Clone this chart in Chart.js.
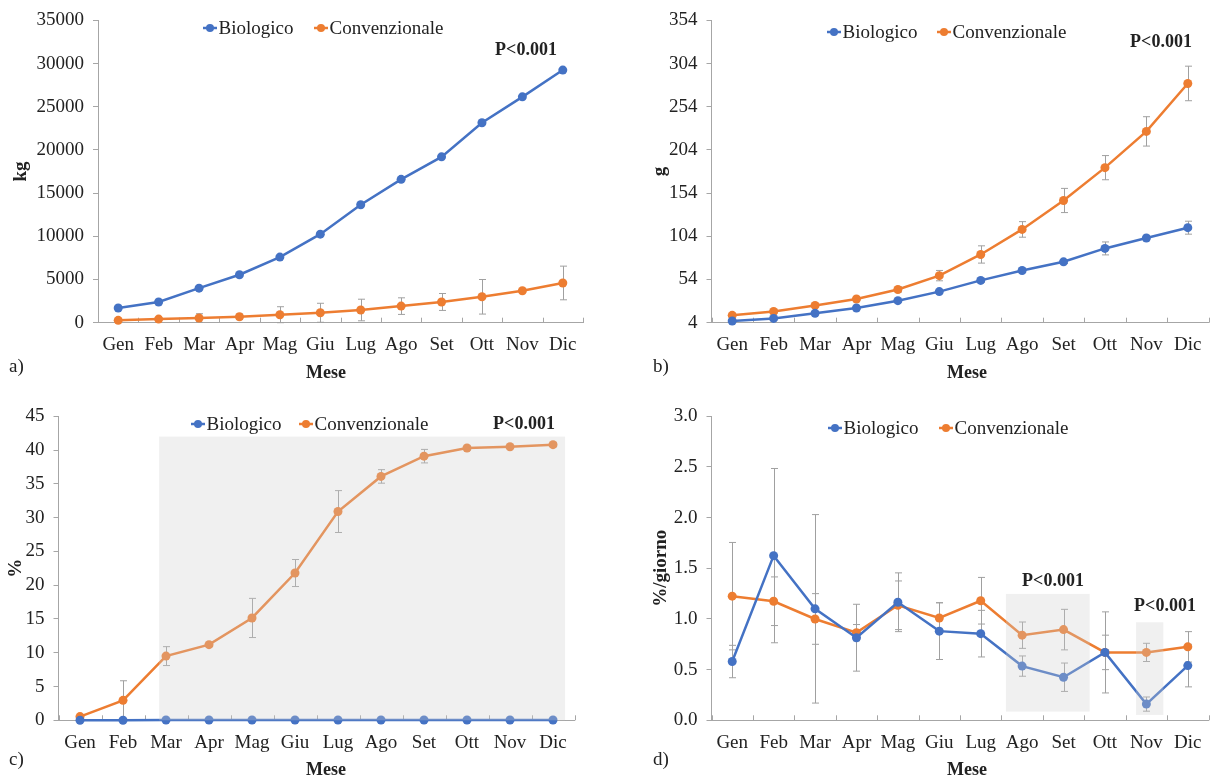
<!DOCTYPE html>
<html>
<head>
<meta charset="utf-8">
<script src="https://cdn.jsdelivr.net/npm/chart.js@4.4.0/dist/chart.umd.min.js"></script>
<style>
  html, body { margin: 0; padding: 0; background: #fff; }
  body { width: 1213px; height: 779px; position: relative; overflow: hidden; }
  .panel { position: absolute; }
</style>
</head>
<body>
<div class="panel" style="left:0;top:0;width:600px;height:390px"><canvas id="chartA"></canvas></div>
<div class="panel" style="left:600px;top:0;width:613px;height:390px"><canvas id="chartB"></canvas></div>
<div class="panel" style="left:0;top:390px;width:600px;height:389px"><canvas id="chartC"></canvas></div>
<div class="panel" style="left:600px;top:390px;width:613px;height:389px"><canvas id="chartD"></canvas></div>

<script>
/* ── Data ─────────────────────────────────────────────────────────────── */
const MONTHS = ['Gen', 'Feb', 'Mar', 'Apr', 'Mag', 'Giu', 'Lug', 'Ago', 'Set', 'Ott', 'Nov', 'Dic'];
const SERIES = ['Biologico', 'Convenzionale'];

// a) kg
const BIO_A      = [1700, 2400, 4000, 5550, 7600, 10250, 13650, 16600, 19200, 23150, 26150, 29250];
const CONV_A     = [270, 420, 540, 690, 920, 1150, 1470, 1920, 2400, 3000, 3700, 4600];
const CONV_A_ERR = [0, 0, 500, 300, 930, 1100, 1250, 960, 980, 2000, 200, 1950];
const TICKS_A    = [0, 5000, 10000, 15000, 20000, 25000, 30000, 35000];

// b) g
const BIO_B      = [6, 9, 15, 21, 29.5, 40, 53, 64.5, 74.5, 90, 102, 114];
const BIO_B_ERR  = [0.5, 0.5, 1, 1, 1, 1.5, 2, 2, 2, 7.5, 3, 7.5];
const CONV_B     = [12.5, 17, 24, 31.5, 42.5, 58.5, 83, 112, 145.5, 183.5, 225.5, 281];
const CONV_B_ERR = [1.5, 1.5, 1.5, 2, 3, 6, 10, 9, 14, 14, 17, 20];
const TICKS_B    = [4, 54, 104, 154, 204, 254, 304, 354];

// c) %
const BIO_C      = [0, 0, 0.05, 0.05, 0.05, 0.05, 0.05, 0.05, 0.05, 0.05, 0.05, 0.05];
const CONV_C     = [0.55, 2.95, 9.5, 11.2, 15.15, 21.8, 30.9, 36.1, 39.1, 40.3, 40.5, 40.8];
const CONV_C_ERR = [0.3, 2.9, 1.4, 0.3, 2.9, 2.0, 3.1, 1.0, 1.0, 0.3, 0.2, 0.3];
const TICKS_C    = [0, 5, 10, 15, 20, 25, 30, 35, 40, 45];
const SHADE_C    = [[1.84, 11.28, 0, 42]];   // [from idx, to idx, low, high]

// d) %/giorno
const BIO_D      = [0.58, 1.625, 1.10, 0.815, 1.165, 0.88, 0.855, 0.535, 0.425, 0.67, 0.16, 0.54];
const BIO_D_ERR  = [0.16, 0.86, 0.93, 0.33, 0.29, 0.28, 0.23, 0.1, 0.14, 0.4, 0.07, 0.21];
const CONV_D     = [1.225, 1.175, 1.0, 0.865, 1.135, 1.01, 1.18, 0.84, 0.895, 0.67, 0.67, 0.725];
const CONV_D_ERR = [0.53, 0.24, 0.25, 0.08, 0.24, 0.15, 0.23, 0.13, 0.2, 0.17, 0.09, 0.15];
const TICKS_D    = [0, 0.5, 1.0, 1.5, 2.0, 2.5, 3.0];
const SHADE_D    = [[6.61, 8.63, 0.086, 1.247], [9.75, 10.41, 0.053, 0.967]];

/* ── Style ────────────────────────────────────────────────────────────── */
const BLUE  = '#4472C4';
const ORANGE = '#ED7D31';
const AXIS  = '#a6a6a6';
const INK   = '#222222';
const SERIF = "'Liberation Serif', 'Times New Roman', serif";

/* ── Decorations: tick marks, error bars, shading, legend, texts ─────── */
const decor = {
  id: 'decor',
  beforeDatasetsDraw(chart) {
    const { ctx, scales: { x, y } } = chart;
    ctx.save();
    ctx.strokeStyle = AXIS;
    ctx.lineWidth = 1;
    for (let i = 0; i <= chart.data.labels.length; i++) {
      const px = Math.round(x.getPixelForValue(i - 0.5)) + 0.5;
      ctx.beginPath();
      ctx.moveTo(px, y.bottom);
      ctx.lineTo(px, y.bottom - 5);
      ctx.stroke();
    }
    ctx.strokeStyle = '#a0a0a0';
    chart.data.datasets.forEach(ds => {
      if (!ds.errors) return;
      ds.data.forEach((v, i) => {
        const e = ds.errors[i];
        if (!e) return;
        const px = Math.round(x.getPixelForValue(i)) + 0.5;
        const top = y.getPixelForValue(v + e);
        const bot = y.getPixelForValue(Math.max(v - e, y.min));
        ctx.beginPath();
        ctx.moveTo(px, top); ctx.lineTo(px, bot);
        ctx.moveTo(px - 3.5, top); ctx.lineTo(px + 3.5, top);
        ctx.moveTo(px - 3.5, bot); ctx.lineTo(px + 3.5, bot);
        ctx.stroke();
      });
    });
    ctx.restore();
  },
  afterDatasetsDraw(chart, args, opts) {
    const { ctx, scales: { x, y } } = chart;
    ctx.save();
    ctx.fillStyle = 'rgba(205,205,205,0.3)';
    (opts.shade || []).forEach(([a, b, lo, hi]) => {
      const l = x.getPixelForValue(a), r = x.getPixelForValue(b);
      const t = y.getPixelForValue(hi), bt = y.getPixelForValue(lo);
      ctx.fillRect(l, t, r - l, bt - t);
    });
    ctx.restore();
  },
  afterDraw(chart, args, opts) {
    const { ctx } = chart;
    ctx.save();
    ctx.textBaseline = 'middle';
    // legend
    const lg = opts.legend;
    chart.data.datasets.forEach((ds, i) => {
      const cx = lg.dots[i], cy = lg.y;
      ctx.strokeStyle = ds.borderColor;
      ctx.lineWidth = 2.5;
      ctx.beginPath(); ctx.moveTo(cx - 7, cy); ctx.lineTo(cx + 7, cy); ctx.stroke();
      ctx.fillStyle = ds.borderColor;
      ctx.beginPath(); ctx.arc(cx, cy, 4, 0, Math.PI * 2); ctx.fill();
      ctx.fillStyle = INK;
      ctx.font = '19px ' + SERIF;
      ctx.textAlign = 'left';
      ctx.fillText(ds.label, cx + 8.5, cy + 1);
    });
    // free texts
    (opts.texts || []).forEach(t => {
      ctx.fillStyle = INK;
      ctx.font = (t.bold ? 'bold ' : '') + t.size + 'px ' + SERIF;
      ctx.textAlign = t.align || 'center';
      ctx.fillText(t.text, t.x, t.y);
    });
    ctx.restore();
  }
};

/* ── Chart factory ────────────────────────────────────────────────────── */
function makeChart(id, p) {
  const tickFont = { family: SERIF, size: 19 };
  return new Chart(document.getElementById(id), {
    type: 'line',
    data: {
      labels: MONTHS,
      datasets: [
        { label: SERIES[0], data: p.bio, errors: p.bioErr, borderColor: BLUE, backgroundColor: BLUE },
        { label: SERIES[1], data: p.conv, errors: p.convErr, borderColor: ORANGE, backgroundColor: ORANGE }
      ].map(d => Object.assign(d, {
        borderWidth: 2.5, pointRadius: 4.5, pointHoverRadius: 4.5, pointBorderWidth: 0,
        tension: 0, clip: false
      }))
    },
    options: {
      responsive: true, maintainAspectRatio: false, animation: false,
      events: [],
      layout: { padding: { left: 0, top: p.top, right: p.right, bottom: 0 } },
      plugins: {
        legend: { display: false },
        tooltip: { enabled: false },
        decor: { legend: p.legend, texts: p.texts, shade: p.shade }
      },
      scales: {
        x: {
          type: 'category', offset: true,
          afterFit: s => { s.height = p.xh; },
          grid: { display: true, drawOnChartArea: false, drawTicks: false },
          border: { color: AXIS, width: 1 },
          ticks: { padding: 11, color: INK, font: tickFont, maxRotation: 0, autoSkip: false }
        },
        y: {
          min: p.ticks[0], max: p.ticks[p.ticks.length - 1],
          afterFit: s => { s.width = p.yw; },
          afterBuildTicks: s => { s.ticks = p.ticks.map(v => ({ value: v })); },
          grid: { drawOnChartArea: false, drawTicks: true, tickLength: 5, color: AXIS },
          border: { color: AXIS, width: 1 },
          ticks: { padding: 9, color: INK, font: tickFont, callback: p.fmt },
          title: {
            display: true, text: p.yTitle, color: INK,
            font: { family: SERIF, size: 19, weight: 'bold' },
            padding: { top: p.titlePad, bottom: 0 }
          }
        }
      }
    },
    plugins: [decor]
  });
}

const plain = v => String(v);

makeChart('chartA', {
  bio: BIO_A, conv: CONV_A, convErr: CONV_A_ERR, ticks: TICKS_A, fmt: plain,
  yTitle: 'kg', yw: 98, xh: 67.3, top: 20, right: 17, titlePad: 10,
  legend: { y: 28, dots: [210, 321] },
  texts: [
    { text: 'P<0.001', x: 526, y: 50, size: 18, bold: true },
    { text: 'Mese', x: 326, y: 373, size: 18, bold: true },
    { text: 'a)', x: 9, y: 367, size: 19, align: 'left' }
  ]
});

makeChart('chartB', {
  bio: BIO_B, bioErr: BIO_B_ERR, conv: CONV_B, convErr: CONV_B_ERR, ticks: TICKS_B, fmt: plain,
  yTitle: 'g', yw: 111.5, xh: 67.3, top: 20, right: 0, titlePad: 48.6,
  legend: { y: 32, dots: [234, 344] },
  texts: [
    { text: 'P<0.001', x: 561, y: 42, size: 18, bold: true },
    { text: 'Mese', x: 367, y: 373, size: 18, bold: true },
    { text: 'b)', x: 53, y: 367, size: 19, align: 'left' }
  ]
});

makeChart('chartC', {
  bio: BIO_C, conv: CONV_C, convErr: CONV_C_ERR, ticks: TICKS_C, fmt: plain,
  yTitle: '%', yw: 58.5, xh: 58.7, top: 26.3, right: 25.5, titlePad: 4.6,
  shade: SHADE_C,
  legend: { y: 34, dots: [198, 306] },
  texts: [
    { text: 'P<0.001', x: 524, y: 34, size: 18, bold: true },
    { text: 'Mese', x: 326, y: 380, size: 18, bold: true },
    { text: 'c)', x: 9, y: 370, size: 19, align: 'left' }
  ]
});

makeChart('chartD', {
  bio: BIO_D, bioErr: BIO_D_ERR, conv: CONV_D, convErr: CONV_D_ERR, ticks: TICKS_D,
  fmt: v => v.toFixed(1),
  yTitle: '%/giorno', yw: 111.5, xh: 58.7, top: 26.3, right: 0, titlePad: 49.6,
  shade: SHADE_D,
  legend: { y: 38, dots: [235, 346] },
  texts: [
    { text: 'P<0.001', x: 453, y: 191, size: 18, bold: true },
    { text: 'P<0.001', x: 565, y: 216, size: 18, bold: true },
    { text: 'Mese', x: 367, y: 380, size: 18, bold: true },
    { text: 'd)', x: 53, y: 370, size: 19, align: 'left' }
  ]
});
</script>
</body>
</html>
